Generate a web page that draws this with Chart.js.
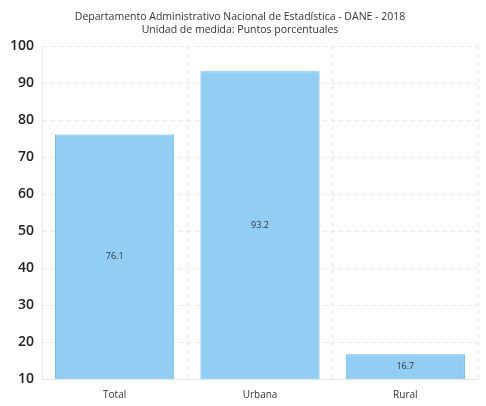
<!DOCTYPE html>
<html>
<head>
<meta charset="utf-8">
<script src="https://cdn.jsdelivr.net/npm/chart.js@4/dist/chart.umd.min.js"></script>
<style>
  html, body { margin: 0; padding: 0; background: #fff; }
  #wrap { width: 486px; height: 406px; }
</style>
</head>
<body>
<div id="wrap"><canvas id="chart"></canvas></div>
<script>
const categories = ['Total', 'Urbana', 'Rural'];
const values = [76.1, 93.2, 16.7];
const titleLines = [
  'Departamento Administrativo Nacional de Estadística - DANE - 2018',
  'Unidad de medida: Puntos porcentuales'
];

// value text centred inside the visible part of each bar
const barValues = {
  id: 'barValues',
  afterDatasetsDraw(chart) {
    const ctx = chart.ctx;
    const area = chart.chartArea;
    const meta = chart.getDatasetMeta(0);
    ctx.save();
    ctx.font = '9px "Open Sans", sans-serif';
    ctx.fillStyle = '#333';
    ctx.textAlign = 'center';
    ctx.textBaseline = 'middle';
    meta.data.forEach((bar, i) => {
      const base = Math.min(bar.base, area.bottom);
      ctx.fillText(values[i].toFixed(1), bar.x, (bar.y + base) / 2);
    });
    ctx.restore();
  }
};

const ctx = document.getElementById('chart').getContext('2d');
new Chart(ctx, {
  type: 'bar',
  data: {
    labels: categories,
    datasets: [{
      data: values,
      backgroundColor: '#92cdf4',
      borderColor: '#5fb3e6',
      borderWidth: 1,
      barPercentage: 0.82,
      categoryPercentage: 1
    }]
  },
  options: {
    responsive: true,
    maintainAspectRatio: false,
    animation: false,
    layout: { padding: { top: 5, right: 8, left: 2, bottom: -5 } },
    plugins: {
      legend: { display: false },
      tooltip: { enabled: false },
      title: {
        display: true,
        text: titleLines,
        color: '#333',
        font: { family: '"Open Sans", sans-serif', size: 10.5, weight: 'normal' },
        padding: { top: 6, bottom: 10 },
        lineHeight: 1.2
      }
    },
    scales: {
      x: {
        grid: {
          offset: true,
          color: '#e8e8e8',
          tickLength: 0
        },
        border: { display: true, color: '#e8e8e8', dash: [4, 4] },
        ticks: {
          color: '#333',
          padding: 10,
          font: { family: '"Open Sans", sans-serif', size: 10 }
        }
      },
      y: {
        min: 10,
        max: 100,
        ticks: {
          stepSize: 10,
          color: '#222',
          padding: 8,
          font: { family: '"Open Sans", sans-serif', size: 14, weight: '600' }
        },
        grid: {
          color: '#e8e8e8',
          tickLength: 0
        },
        border: { display: true, color: '#e8e8e8', dash: [4, 4] }
      }
    }
  },
  plugins: [barValues]
});
</script>
</body>
</html>
